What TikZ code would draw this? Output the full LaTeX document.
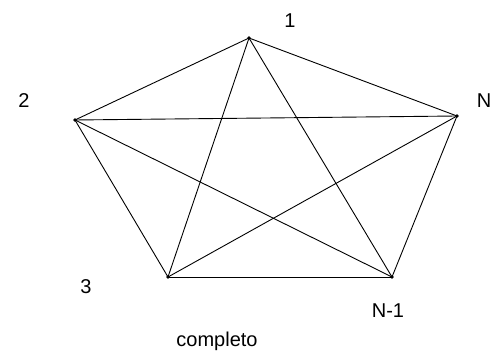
\documentclass[tikz,border=0pt]{standalone}
\usepackage{fontspec}
\setmainfont{Liberation Sans}
\usetikzlibrary{positioning}

\begin{document}
\begin{tikzpicture}[x=1pt, y=-1pt, line width=0.9pt,
		every node/.style={font=\fontsize{20}{24}\selectfont, inner sep=0pt, anchor=base}]
		\useasboundingbox (0,0) rectangle (496,352);
		
		\coordinate (v1) at (249,38);
		\coordinate (vN) at (457,116);
		\coordinate (vNm) at (392,277);
		\coordinate (v3) at (168,277);
		\coordinate (v2) at (75,120);
		
		\foreach \a/\b in {v1/v2, v1/v3, v1/vNm, v1/vN, v2/v3, v2/vNm, v2/vN, v3/vNm, v3/vN, vNm/vN}
			\draw (\a) -- (\b);
		\foreach \v in {v1, v2, v3, vNm, vN}
			\fill (\v) circle (1.8pt);
		
		\node (l1) at (290,28) {1};
		\node (l2) at (24,108) {2};
		\node (lN) at (484,108) {N};
		\node (l3) at (86,294) {3};
		\node (lNm) at (388,318) {N-1};
		\node (cap) at (217,347) {completo};
	\end{tikzpicture}
\end{document}
